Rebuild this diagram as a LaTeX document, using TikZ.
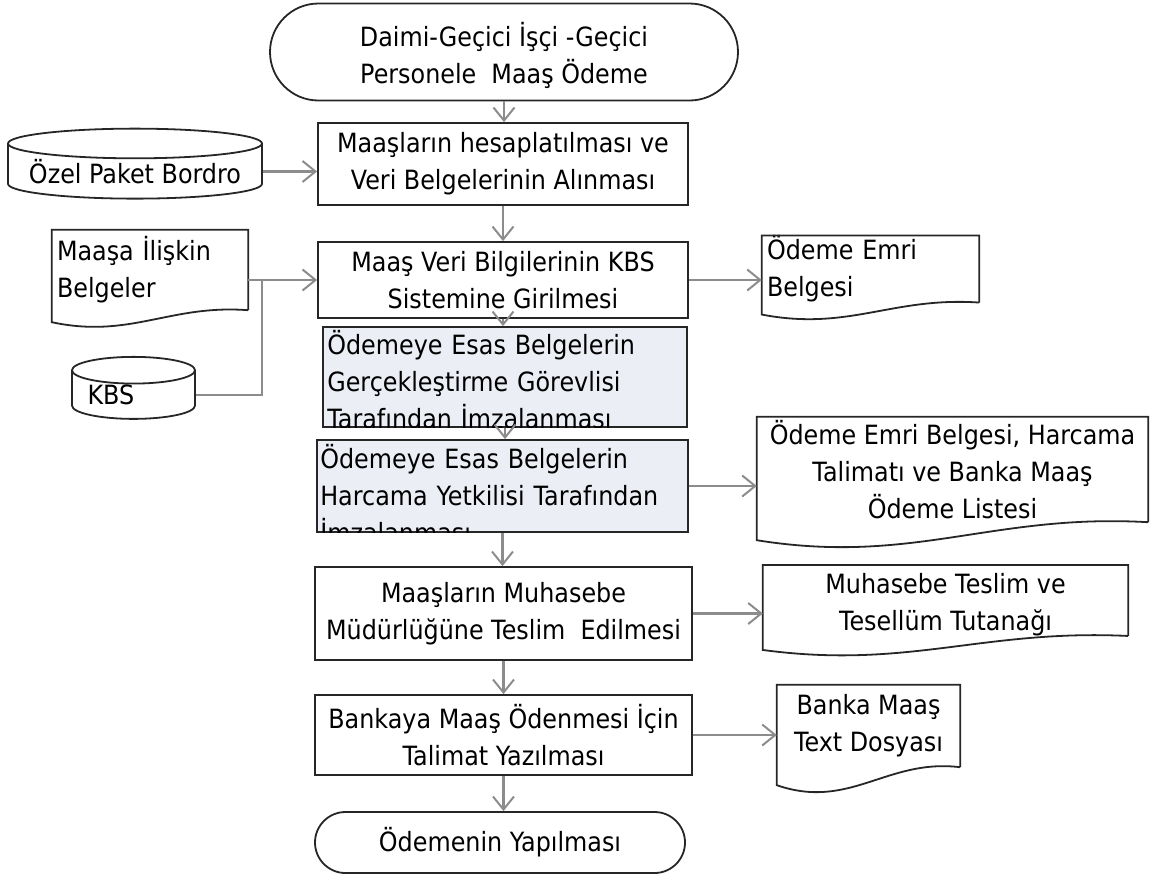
\documentclass[tikz,border=0pt]{standalone}
\usepackage{fontspec}
\setmainfont{DejaVu Sans}[FakeStretch=0.9]
\usepackage{tikz}
\usetikzlibrary{arrows.meta,shapes,positioning,calc}
\definecolor{arrgray}{RGB}{140,140,140}
\definecolor{boxfill}{RGB}{236,238,245}
\tikzset{
  every node/.style={font=\fontsize{26.5}{37}\selectfont, inner sep=0pt},
  proc/.style={draw=black!85, line width=1.8pt, rectangle},
  term/.style={draw=black!85, line width=1.8pt, rounded rectangle},
  dbase/.style={draw=black!85, line width=1.8pt, cylinder, shape border rotate=90},
  docbox/.style={rectangle},
  outl/.style={draw=black!85, line width=1.8pt},
  arr/.style={draw=arrgray, line width=2.2pt, -{Straight Barb[length=13pt,width=21pt,line width=2pt]}},
  lnk/.style={draw=arrgray, line width=2.2pt}
}
% document outline with wavy bottom
\newcommand\docout[2]{%
  \draw[outl] (#1.south east) -- (#1.north east) -- (#1.north west) -- ([yshift=-#2pt]#1.south west)
    .. controls ([yshift=-2.4*#2pt]$(#1.south west)!.4!(#1.south east)$) and ([yshift=.5*#2pt]$(#1.south west)!.6!(#1.south east)$) .. (#1.south east);}
\begin{document}
\begin{tikzpicture}[x=1pt,y=-1pt]
\useasboundingbox (0,0) rectangle (1159,876);
%main column
\node[term, minimum width=468pt, minimum height=97pt, align=center] (start) at (504,52) {\\[-6pt]Daimi-Geçici İşçi -Geçici\\Personele~ Maaş Ödeme};
\node[proc, minimum width=370pt, minimum height=82pt, align=center] (hesap) at (503,164) {Maaşların hesaplatılması ve\\Veri Belgelerinin Alınması};
\node[proc, minimum width=370pt, minimum height=76pt, align=center] (veri) at (503,280) {Maaş Veri Bilgilerinin KBS\\Sistemine Girilmesi};
\node[proc, fill=boxfill, minimum width=364pt, minimum height=100pt] (gorev) at (505,377) {};
\node[proc, fill=boxfill, minimum width=371pt, minimum height=92pt] (harcama) at (502.5,486) {};
\node[proc, minimum width=377pt, minimum height=93pt, align=center] (muhasebe) at (503.5,613.5) {Maaşların Muhasebe\\Müdürlüğüne Teslim~ Edilmesi};
\node[proc, minimum width=377pt, minimum height=80pt, align=center] (talimat) at (503.5,735) {Bankaya Maaş Ödenmesi İçin\\Talimat Yazılması};
\node[term, minimum width=370pt, minimum height=61pt] (bitis) at (500,842.5) {Ödemenin Yapılması};
%texts running out of the shaded boxes
\begin{scope}
\clip (gorev.north west) rectangle (gorev.south east);
\node[anchor=north west, text width=355pt, align=left] (gorevt) at ([xshift=5pt,yshift=-4pt]gorev.north west) {Ödemeye Esas Belgelerin\\Gerçekleştirme Görevlisi\\Tarafından İmzalanması};
\end{scope}
\begin{scope}
\clip (harcama.north west) rectangle (harcama.south east);
\node[anchor=north west, text width=365pt, align=left] (harcamat) at ([xshift=4pt,yshift=-5pt]harcama.north west) {Ödemeye Esas Belgelerin\\Harcama Yetkilisi Tarafından\\İmzalanması};
\end{scope}
%inputs on the left
\node[dbase, minimum width=254pt, minimum height=63pt, aspect=0.14] (ozel) at (135,171.5) {Özel Paket Bordro};
\node[docbox, minimum width=196pt, minimum height=80pt, text width=186pt, align=left] (maasa) at (150,270) {Maaşa İlişkin\\Belgeler};
\docout{maasa}{12}
\node[dbase, minimum width=123pt, minimum height=62pt, aspect=0.29, text width=92pt, align=left] (kbs) at (133.5,395) {KBS};
%outputs on the right
\node[docbox, minimum width=217pt, minimum height=64pt, text width=207pt, align=left] (emri) at (870.5,269) {Ödeme Emri\\Belgesi};
\docout{emri}{12}
\node[docbox, minimum width=391pt, minimum height=105pt, align=center] (liste) at (952.5,469.5) {Ödeme Emri Belgesi, Harcama\\Talimatı ve Banka Maaş\\Ödeme Listesi};
\docout{liste}{18}
\node[docbox, minimum width=365pt, minimum height=65pt, align=center] (tutanak) at (945.5,600.5) {\\[-9pt]Muhasebe Teslim ve\\Tesellüm Tutanağı};
\docout{tutanak}{14}
\node[docbox, minimum width=183pt, minimum height=82pt, align=center] (dosya) at (868.5,726) {Banka Maaş\\Text Dosyası};
\docout{dosya}{18}
%flow arrows
\draw[arr] (start.south) -- (start.south |- hesap.north);
\draw[arr] (hesap.south) -- (hesap.south |- veri.north);
\draw[arr] (veri.south) -- (veri.south |- gorev.north);
\draw[arr] (gorev.south) -- (gorev.south |- harcama.north);
\draw[arr] (harcama.south) -- (harcama.south |- muhasebe.north);
\draw[arr] (muhasebe.south) -- (muhasebe.south |- talimat.north);
\draw[arr] (talimat.south) -- (talimat.south |- bitis.north);
%side arrows
\draw[arr] (ozel.east) -- (ozel.east -| hesap.west);
\coordinate (jn) at ($(maasa.east |- veri.west)+(14,0)$);
\draw[lnk] (maasa.east |- veri.west) -- (jn);
\draw[lnk] (kbs.east) -| (jn);
\draw[arr] (jn) -- (veri.west);
\draw[arr] (veri.east) -- (veri.east -| emri.west);
\draw[arr] (harcama.east) -- (harcama.east -| liste.west);
\draw[arr] (muhasebe.east) -- (muhasebe.east -| tutanak.west);
\draw[arr] (talimat.east) -- (talimat.east -| dosya.west);
\end{tikzpicture}
\end{document}
